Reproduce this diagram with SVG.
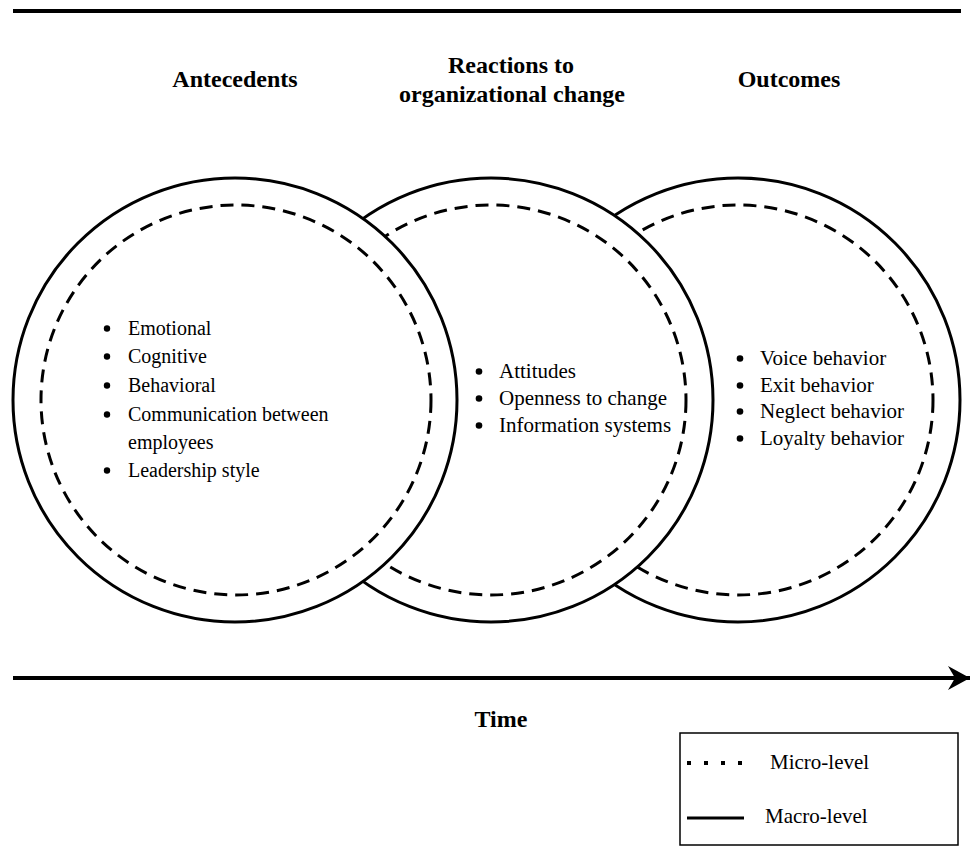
<svg xmlns="http://www.w3.org/2000/svg" width="973" height="866" viewBox="0 0 973 866">
<style>
.outer{fill:#fff;stroke:#000;stroke-width:3}
.inner{fill:none;stroke:#000;stroke-width:3;stroke-dasharray:13 8}
.head{font-family:"Liberation Serif","Times New Roman",serif;font-weight:bold;font-size:24px;fill:#000;text-anchor:middle}
.item{font-family:"Liberation Serif","Times New Roman",serif;font-size:21px;fill:#000}
.item20{font-family:"Liberation Serif","Times New Roman",serif;font-size:20px;fill:#000}
.dot{fill:#000}
</style>
<defs>
<marker id="arrow" markerUnits="userSpaceOnUse" markerWidth="24" markerHeight="26" refX="22" refY="12" orient="auto">
<path d="M0,0 L22,12 L0,24 L7,12 Z" fill="#000"/>
</marker>
</defs>
<rect width="973" height="866" fill="#fff"/>
<line x1="13" y1="11" x2="961" y2="11" stroke="#000" stroke-width="4"/>
<g id="headers">
<text class="head" x="235" y="87">Antecedents</text>
<text class="head" x="511" y="73">Reactions to</text>
<text class="head" x="512" y="102">organizational change</text>
<text class="head" x="789" y="87">Outcomes</text>
</g>
<g id="outcomes">
<circle class="outer" cx="738" cy="400" r="222"/>
<circle class="inner" cx="738" cy="400" r="195"/>
<circle class="dot" cx="740" cy="358.5" r="3.3"/><text class="item" x="760" y="365">Voice behavior</text>
<circle class="dot" cx="740" cy="385.5" r="3.3"/><text class="item" x="760" y="392">Exit behavior</text>
<circle class="dot" cx="740" cy="411.5" r="3.3"/><text class="item" x="760" y="418">Neglect behavior</text>
<circle class="dot" cx="740" cy="438.5" r="3.3"/><text class="item" x="760" y="445">Loyalty behavior</text>
</g>
<g id="reactions">
<circle class="outer" cx="491" cy="400" r="222"/>
<circle class="inner" cx="491" cy="400" r="195"/>
<circle class="dot" cx="479" cy="371.5" r="3.3"/><text class="item" x="499" y="378">Attitudes</text>
<circle class="dot" cx="479" cy="398.5" r="3.3"/><text class="item" x="499" y="405">Openness to change</text>
<circle class="dot" cx="479" cy="425.5" r="3.3"/><text class="item" x="499" y="432">Information systems</text>
</g>
<g id="antecedents">
<circle class="outer" cx="235" cy="400" r="222"/>
<circle class="inner" cx="236" cy="400" r="195"/>
<circle class="dot" cx="107" cy="328.5" r="3.2"/><text class="item20" x="128" y="335">Emotional</text>
<circle class="dot" cx="107" cy="356.5" r="3.2"/><text class="item20" x="128" y="363">Cognitive</text>
<circle class="dot" cx="107" cy="385.5" r="3.2"/><text class="item20" x="128" y="392">Behavioral</text>
<circle class="dot" cx="107" cy="414.5" r="3.2"/><text class="item20" x="128" y="421">Communication between</text>
<text class="item20" x="128" y="449">employees</text>
<circle class="dot" cx="107" cy="470.5" r="3.2"/><text class="item20" x="128" y="477">Leadership style</text>
</g>
<g id="connectors">
<line x1="13" y1="678" x2="970" y2="678" stroke="#000" stroke-width="4" marker-end="url(#arrow)"/>
</g>
<text class="head" x="501" y="727">Time</text>
<g id="legend">
<rect x="680" y="733" width="278" height="112" fill="none" stroke="#000" stroke-width="1.5"/>
<line x1="687" y1="763" x2="744" y2="763" stroke="#000" stroke-width="4" stroke-dasharray="4 13"/>
<text class="item" x="770" y="769">Micro-level</text>
<line x1="687" y1="818" x2="744" y2="818" stroke="#000" stroke-width="3"/>
<text class="item" x="765" y="823">Macro-level</text>
</g>
</svg>
